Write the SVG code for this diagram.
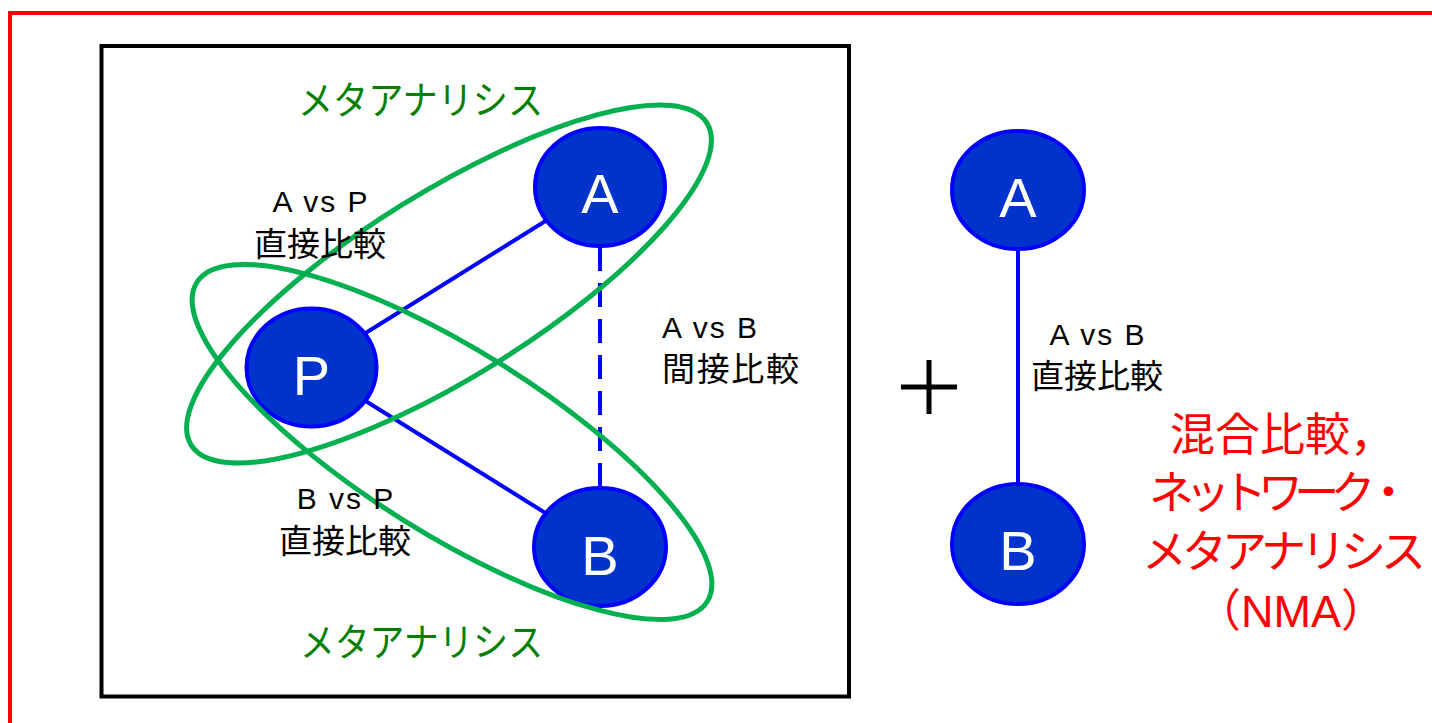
<svg xmlns="http://www.w3.org/2000/svg" width="1432" height="723" viewBox="0 0 1432 723">
<style>
.lbl{font-family:"Liberation Sans","Noto Sans CJK JP",sans-serif;fill:#000}
.node{fill:#0033CC;stroke:#0000FF;stroke-width:4}
.nt{font-family:"Liberation Sans",sans-serif;font-size:56px;fill:#fff;text-anchor:middle}
.ell{fill:none;stroke:#00B050;stroke-width:5}
.meta{font-family:"Noto Sans CJK JP",sans-serif;font-size:39px;fill:#008000}
.red{font-family:"Liberation Sans","Noto Sans CJK JP",sans-serif;font-size:45px;fill:#FF0000}
.edge{stroke:#0000FF;stroke-width:4;fill:none}
</style>
<rect width="1432" height="723" fill="#fff"/>
<rect x="10" y="13" width="1440" height="740" fill="none" stroke="#FF0000" stroke-width="4"/>
<rect x="101.5" y="46" width="747.5" height="650.5" fill="none" stroke="#000" stroke-width="4"/>
<g id="connectors">
<line class="edge" x1="311" y1="367" x2="600" y2="187"/>
<line class="edge" x1="311" y1="367" x2="600" y2="547"/>
<line class="edge" x1="600" y1="247" x2="600" y2="487" stroke-width="5" stroke-dasharray="24 12"/>
<line class="edge" x1="1018" y1="250" x2="1018" y2="484"/>
</g>
<g id="node-P"><ellipse class="node" cx="311.5" cy="367.5" rx="65" ry="59"/><text class="nt" x="311.5" y="395">P</text></g>
<g id="node-A"><ellipse class="node" cx="600" cy="187" rx="65" ry="59"/><text class="nt" x="600" y="213">A</text></g>
<g id="node-B"><ellipse class="node" cx="600" cy="547" rx="66" ry="59"/><text class="nt" x="600" y="575">B</text></g>
<g id="node-A2"><ellipse class="node" cx="1018" cy="190" rx="66" ry="59"/><text class="nt" x="1018" y="217">A</text></g>
<g id="node-B2"><ellipse class="node" cx="1018" cy="544" rx="66" ry="60"/><text class="nt" x="1018" y="570">B</text></g>
<g id="meta-PA"><ellipse class="ell" cx="449" cy="284" rx="304" ry="92" transform="rotate(-32 449 284)"/></g>
<g id="meta-PB"><ellipse class="ell" cx="452" cy="442" rx="301" ry="92" transform="rotate(32 452 442)"/></g>
<g id="labels">
<text class="meta" x="298" y="114" textLength="245" lengthAdjust="spacingAndGlyphs">メタアナリシス</text>
<text class="meta" x="300" y="656" textLength="243" lengthAdjust="spacingAndGlyphs">メタアナリシス</text>
<text class="lbl" x="321" y="212" font-size="30" letter-spacing="2" text-anchor="middle">A vs P</text>
<text class="lbl" x="320" y="256" font-size="33" text-anchor="middle">直接比較</text>
<text class="lbl" x="346" y="509" font-size="30" letter-spacing="2" text-anchor="middle">B vs P</text>
<text class="lbl" x="345" y="553" font-size="33" text-anchor="middle">直接比較</text>
<text class="lbl" x="662" y="338" font-size="30" letter-spacing="2">A vs B</text>
<text class="lbl" x="662" y="381" font-size="33" textLength="137">間接比較</text>
<text class="lbl" x="1098" y="345" font-size="30" letter-spacing="2" text-anchor="middle">A vs B</text>
<text class="lbl" x="1097" y="388" font-size="33" text-anchor="middle">直接比較</text>
<path d="M901 387H957M929 360V414" stroke="#000" stroke-width="5" fill="none"/>
<text class="red" x="1170" y="451">混合比較，</text>
<text class="red" x="1149" y="509" textLength="262" lengthAdjust="spacing">ネットワーク・</text>
<text class="red" x="1142" y="568" textLength="284" lengthAdjust="spacing">メタアナリシス</text>
<text class="red" x="1196" y="627">（NMA）</text>
</g>
</svg>
